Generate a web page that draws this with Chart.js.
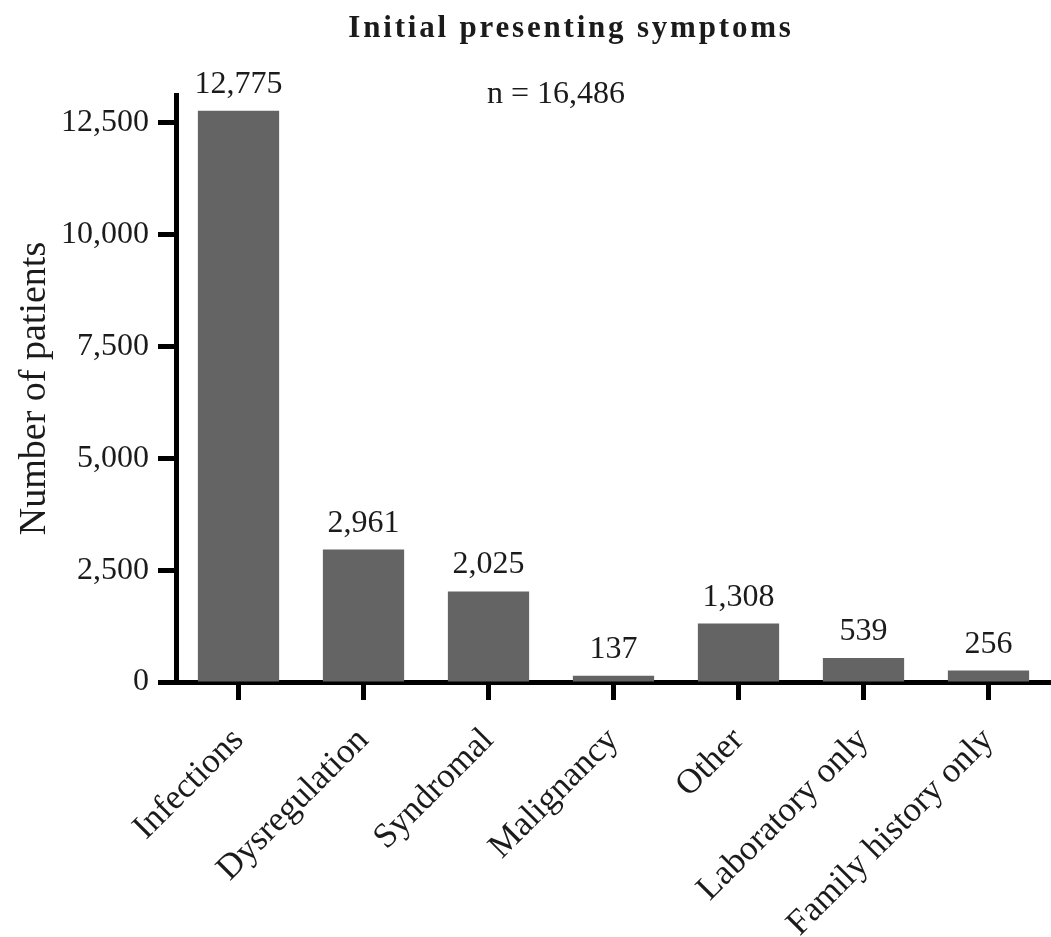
<!doctype html>
<html lang="en">
<head>
    <meta charset="utf-8">
    <title>Initial presenting symptoms</title>
    <script src="https://cdn.jsdelivr.net/npm/chart.js@4.4.1/dist/chart.umd.min.js"></script>
    <style>
        html, body { margin: 0; padding: 0; background: #fff; }
        #wrap { width: 1051px; height: 937px; position: relative; }
    </style>
</head>
<body>
<div id="wrap">
    <canvas id="myChart"></canvas>
</div>
<script type="text/javascript">
    const categories = ['Infections', 'Dysregulation', 'Syndromal', 'Malignancy', 'Other', 'Laboratory only', 'Family history only']
    const patients = [12775, 2961, 2025, 137, 1308, 539, 256]
    const yTicks = [0, 2500, 5000, 7500, 10000, 12500]
    const chartTitle = 'Initial presenting symptoms'
    const sampleNote = 'n = 16,486'

    const serif = '"Liberation Serif", "DejaVu Serif", serif'
    const ink = '#1b1b1b'

    // title, n and value labels above each bar
    const textPlugin = {
        id: 'textPlugin',
        afterDraw(chart) {
            const ctx = chart.ctx
            ctx.save()
            ctx.fillStyle = ink
            ctx.textAlign = 'center'
            ctx.textBaseline = 'alphabetic'

            ctx.font = 'bold 31px ' + serif
            ctx.letterSpacing = '2.8px'
            ctx.fillText(chartTitle, 571, 37)
            ctx.letterSpacing = '0px'

            ctx.font = '32px ' + serif
            ctx.fillText(sampleNote, 556, 103)

            const meta = chart.getDatasetMeta(0)
            meta.data.forEach((bar, i) => {
                ctx.fillText(patients[i].toLocaleString('en-US'), bar.x, bar.y - 18)
            })
            ctx.restore()
        }
    }

    const config = {
        type: 'bar',
        data: {
            labels: categories,
            datasets: [{
                label: 'Number of patients',
                data: patients,
                backgroundColor: '#646464',
                borderWidth: 0,
                categoryPercentage: 1.0,
                barPercentage: 0.65
            }]
        },
        options: {
            responsive: true,
            maintainAspectRatio: false,
            animation: false,
            layout: {padding: {top: 95, right: 0, left: 0, bottom: 0}},
            plugins: {
                legend: {display: false},
                tooltip: {enabled: false}
            },
            scales: {
                x: {
                    border: {display: true, color: '#000', width: 5},
                    grid: {
                        display: true,
                        offset: false,
                        drawOnChartArea: false,
                        drawTicks: true,
                        tickLength: 18,
                        tickWidth: 5,
                        tickColor: '#000'
                    },
                    ticks: {
                        color: ink,
                        font: {family: serif, size: 35},
                        minRotation: 45,
                        maxRotation: 45,
                        padding: 20
                    },
                    afterFit(scale) {
                        scale.height = 255
                    }
                },
                y: {
                    min: 0,
                    max: 13125,
                    border: {display: true, color: '#000', width: 5},
                    grid: {
                        display: true,
                        drawOnChartArea: false,
                        drawTicks: true,
                        tickLength: 18,
                        tickWidth: 5,
                        tickColor: '#000'
                    },
                    afterBuildTicks(scale) {
                        scale.ticks = yTicks.map(v => ({value: v}))
                    },
                    ticks: {
                        color: ink,
                        font: {family: serif, size: 32},
                        padding: 9,
                        callback: v => Number(v).toLocaleString('en-US')
                    },
                    title: {
                        display: true,
                        text: 'Number of patients',
                        color: ink,
                        font: {family: serif, size: 38},
                        padding: {top: 12, bottom: 0}
                    },
                    afterFit(scale) {
                        scale.width = 176
                    }
                }
            }
        },
        plugins: [textPlugin]
    }

    const ctx = document.getElementById('myChart')
    const myChart = new Chart(ctx, config)
</script>
</body>
</html>
